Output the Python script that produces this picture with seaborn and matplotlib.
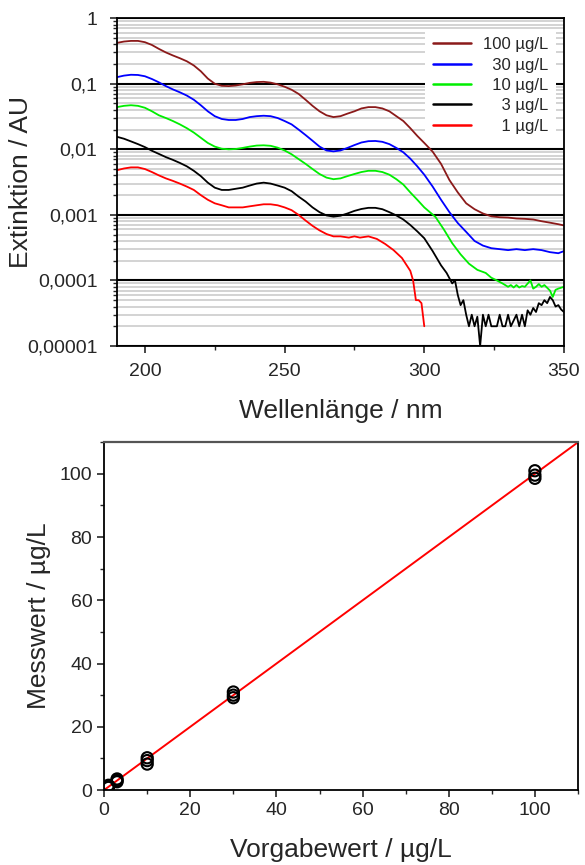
import numpy as np
import pandas as pd
import matplotlib
matplotlib.use("Agg")
import matplotlib.pyplot as plt
import matplotlib.ticker as mticker
import seaborn as sns

# --- spectra (wavelength in nm, extinction in AU) ---
wl_grid = [190, 192.5, 195, 197.5, 200, 202.5, 205, 207.5, 210, 212.5, 215, 217.5, 220, 222.5,
           225, 227.5, 230, 232.5, 235, 237.5, 240, 242.5, 245, 247.5, 250, 252.5, 255, 257.5,
           260, 262.5, 265, 267.5, 270, 272.5, 275, 277.5, 280, 282.5, 285, 287.5, 290, 292.5,
           295, 297.5, 300]

ext_100 = [0.42, 0.44, 0.45, 0.45, 0.43, 0.39, 0.34, 0.30, 0.27, 0.245, 0.22, 0.19, 0.155,
           0.12, 0.10, 0.093, 0.092, 0.094, 0.098, 0.103, 0.106, 0.107, 0.104, 0.098, 0.09,
           0.081, 0.07, 0.057, 0.046, 0.038, 0.033, 0.031, 0.032, 0.035, 0.038, 0.042, 0.044,
           0.044, 0.042, 0.038, 0.032, 0.027, 0.021, 0.016, 0.0125]
wl_100_tail = [303, 306, 309, 312, 315, 318, 321, 324, 327, 330, 333, 336, 339, 342, 345, 348, 350]
ext_100_tail = [0.0092, 0.006, 0.0034, 0.0022, 0.0015, 0.00122, 0.00105, 0.00095, 0.00092,
                0.00091, 0.00088, 0.00087, 0.00085, 0.0008, 0.00076, 0.00072, 0.00069]

ext_30 = [0.126, 0.133, 0.137, 0.136, 0.13, 0.118, 0.105, 0.092, 0.082, 0.074, 0.066, 0.057,
          0.047, 0.038, 0.032, 0.029, 0.028, 0.028, 0.029, 0.031, 0.032, 0.0325, 0.032, 0.030,
          0.027, 0.024, 0.020, 0.0165, 0.0135, 0.011, 0.0096, 0.0093, 0.0096, 0.0105, 0.0116,
          0.0127, 0.0133, 0.0134, 0.013, 0.012, 0.0105, 0.009, 0.0072, 0.0055, 0.0041]
wl_30_tail = [303, 306, 309, 312, 315, 318, 321, 324, 327, 330, 333, 336, 339, 342, 345, 348, 350]
ext_30_tail = [0.0027, 0.0017, 0.0011, 0.00075, 0.00055, 0.0004, 0.00034, 0.00031, 0.0003,
               0.00029, 0.0003, 0.00029, 0.0003, 0.00029, 0.00027, 0.00026, 0.00028]

ext_10 = [0.044, 0.046, 0.047, 0.046, 0.043, 0.038, 0.033, 0.030, 0.027, 0.024, 0.021, 0.018,
          0.015, 0.0125, 0.011, 0.0102, 0.0100, 0.0101, 0.0105, 0.011, 0.0114, 0.0115, 0.0113,
          0.0106, 0.0096, 0.0084, 0.0071, 0.006, 0.005, 0.0042, 0.0037, 0.0035, 0.0036, 0.0039,
          0.0042, 0.0045, 0.0047, 0.0047, 0.0045, 0.0041, 0.0035, 0.0029, 0.0022, 0.0017, 0.0013]
wl_10_tail = [302, 304, 307, 310, 313, 316, 319, 322, 324, 326, 328, 330, 331, 332, 333, 334,
              335, 336, 338, 339, 340, 341, 342, 343, 345, 346, 347, 348, 350]
ext_10_tail = [0.0011, 0.00093, 0.0006, 0.00037, 0.00025, 0.00018, 0.000145, 0.00013, 0.00011,
               0.0001, 0.00009, 0.00008, 0.000085, 0.000078, 0.000085, 0.000078, 0.000082,
               0.00008, 0.0001, 0.000075, 0.00008, 0.000088, 0.00008, 0.000085, 0.00007,
               0.000056, 0.000072, 0.000075, 0.00008]

ext_3 = [0.0155, 0.0145, 0.0132, 0.012, 0.0108, 0.0095, 0.0085, 0.0076, 0.0069, 0.0062, 0.0055,
         0.0047, 0.0039, 0.0031, 0.0026, 0.0024, 0.0024, 0.0025, 0.0026, 0.0028, 0.0030, 0.0031,
         0.003, 0.0028, 0.0026, 0.0023, 0.0019, 0.0016, 0.0013, 0.0011, 0.00098, 0.00094,
         0.00097, 0.00105, 0.00115, 0.00123, 0.00128, 0.00128, 0.00122, 0.0011, 0.00098,
         0.00085, 0.0007, 0.00056, 0.00044]
wl_3_tail = [303, 306, 308, 310, 311, 312, 313, 314, 315, 316, 317, 318, 319, 320, 321, 322,
             323, 324, 326, 327, 328, 329, 330, 331, 333, 334, 335, 336, 337, 338, 339, 340,
             341, 342, 343, 344, 345, 346, 347, 348, 349, 350]
ext_3_tail = [0.00028, 0.00017, 0.00013, 0.00009, 0.0001, 0.00006, 0.000042, 0.00005, 0.00003,
              0.00002, 0.00003, 0.00002, 0.000028, 0.00001, 0.00003, 0.00002, 0.00003, 0.00002,
              0.00002, 0.00003, 0.00002, 0.00002, 0.00003, 0.00002, 0.00003, 0.00002, 0.00003,
              0.00002, 0.000035, 0.00003, 0.000038, 0.000033, 0.000045, 0.000042, 0.00005,
              0.000045, 0.000056, 0.00005, 0.00004, 0.000042, 0.000036, 0.000033]

ext_1 = [0.0048, 0.0051, 0.0053, 0.0053, 0.005, 0.0045, 0.004, 0.0036, 0.0033, 0.003, 0.0027,
         0.0024, 0.002, 0.0017, 0.0015, 0.0014, 0.0013, 0.0013, 0.0013, 0.00135, 0.0014,
         0.00145, 0.00145, 0.0014, 0.0013, 0.00118, 0.001, 0.00082, 0.00068, 0.00058, 0.00051,
         0.00047, 0.00047]
wl_1_tail = [273, 275, 277, 280, 283, 286, 289, 292, 295, 296, 297, 298, 299, 300]
ext_1_tail = [0.00045, 0.00047, 0.00045, 0.00047, 0.00043, 0.00036, 0.00029, 0.00022, 0.00014,
              0.0001, 0.00005, 0.00005, 0.000045, 0.00002]

# legend labels padded with figure spaces so they line up on the right
labels = ["100 µg/L", "\u200730 µg/L", "\u200710 µg/L", "\u2007\u20073 µg/L", "\u2007\u20071 µg/L"]
colors = ["#8b1a1a", "#0000ff", "#00ee00", "#000000", "#ff0000"]

# --- calibration ---
vorgabe = [1, 1, 1, 3, 3, 3, 10, 10, 10, 30, 30, 30, 100, 100, 100]
messwert = [0.8, 1.2, 1.5, 2.6, 3.0, 3.5, 8.2, 9.3, 10.2, 29.2, 30.0, 31.0, 98.6, 99.6, 101.0]
fit_x = [0, 110]
fit_y = [0, 110]

yticks = [1e-5, 1e-4, 1e-3, 1e-2, 1e-1, 1]
yticklabels = ["0,00001", "0,0001", "0,001", "0,01", "0,1", "1"]

sns.set_style("ticks")
plt.rcParams["font.family"] = ["Liberation Sans", "DejaVu Sans"]

series = [
    (wl_grid + wl_100_tail, ext_100 + ext_100_tail),
    (wl_grid + wl_30_tail, ext_30 + ext_30_tail),
    (wl_grid + wl_10_tail, ext_10 + ext_10_tail),
    (wl_grid + wl_3_tail, ext_3 + ext_3_tail),
    (wl_grid[:len(ext_1)] + wl_1_tail, ext_1 + ext_1_tail),
]
spectra = pd.concat([
    pd.DataFrame({"wl": w, "ext": e, "conc": lab})
    for (w, e), lab in zip(series, labels)
])

fig = plt.figure(figsize=(5.85, 8.65), dpi=100)
ax1 = fig.add_axes([0.200, 0.600, 0.764, 0.379])
ax2 = fig.add_axes([0.178, 0.0867, 0.810, 0.402])

# top: spectra
sns.lineplot(data=spectra, x="wl", y="ext", hue="conc", hue_order=labels,
             palette=dict(zip(labels, colors)), estimator=None, linewidth=1.3, ax=ax1)
ax1.set_yscale("log")
ax1.set_xlim(190, 350)
ax1.set_ylim(1e-5, 1)
ax1.set_yticks(yticks)
ax1.set_yticklabels(yticklabels)
ax1.yaxis.set_minor_locator(mticker.LogLocator(base=10, subs=np.arange(2, 10)))
ax1.yaxis.set_minor_formatter(mticker.NullFormatter())
ax1.set_xticks([200, 250, 300, 350])
ax1.xaxis.set_minor_locator(mticker.MultipleLocator(25))
ax1.grid(axis="y", which="minor", color="#cccccc", linewidth=1.2, zorder=0)
ax1.grid(axis="y", which="major", color="black", linewidth=1.5, zorder=0)
ax1.set_axisbelow(True)
ax1.tick_params(which="major", direction="out", length=5, width=1.2, labelsize=14, pad=9)
ax1.tick_params(axis="x", which="major", pad=7)
ax1.tick_params(which="minor", direction="out", length=3, width=1.0)
for s in ax1.spines.values():
    s.set_linewidth(1.3)
    s.set_color("black")
ax1.set_xlabel("Wellenlänge / nm", fontsize=19, labelpad=14)
ax1.set_ylabel("Extinktion / AU", fontsize=19, labelpad=-4)
leg = ax1.legend(title=None, loc="upper right", bbox_to_anchor=(1.0, 0.99),
                 frameon=True, facecolor="white", edgecolor="none", framealpha=1,
                 fancybox=False, fontsize=12, handlelength=2.3, labelspacing=0.32,
                 borderpad=0.45, handletextpad=0.7)
for line in leg.get_lines():
    line.set_linewidth(1.8)

# bottom: calibration
sns.lineplot(x=fit_x, y=fit_y, color="red", linewidth=1.4, ax=ax2)
sns.scatterplot(x=vorgabe, y=messwert, marker="o", s=65, facecolors="none",
                edgecolors="black", linewidth=1.5, ax=ax2, zorder=3)
ax2.set_xlim(0, 110)
ax2.set_ylim(0, 110)
ax2.set_xticks(range(0, 101, 20))
ax2.set_yticks(range(0, 101, 20))
ax2.xaxis.set_minor_locator(mticker.MultipleLocator(10))
ax2.yaxis.set_minor_locator(mticker.MultipleLocator(10))
ax2.tick_params(which="major", direction="out", length=5, width=1.2, labelsize=14)
ax2.tick_params(which="minor", direction="out", length=3, width=1.0)
for s in ax2.spines.values():
    s.set_linewidth(1.3)
    s.set_color("black")
ax2.spines["top"].set_color("#555555")
ax2.spines["top"].set_linewidth(1.6)
ax2.set_xlabel("Vorgabewert / µg/L", fontsize=19, labelpad=14)
ax2.set_ylabel("Messwert / µg/L", fontsize=19, labelpad=6)

fig.savefig("out.png", dpi=100)
